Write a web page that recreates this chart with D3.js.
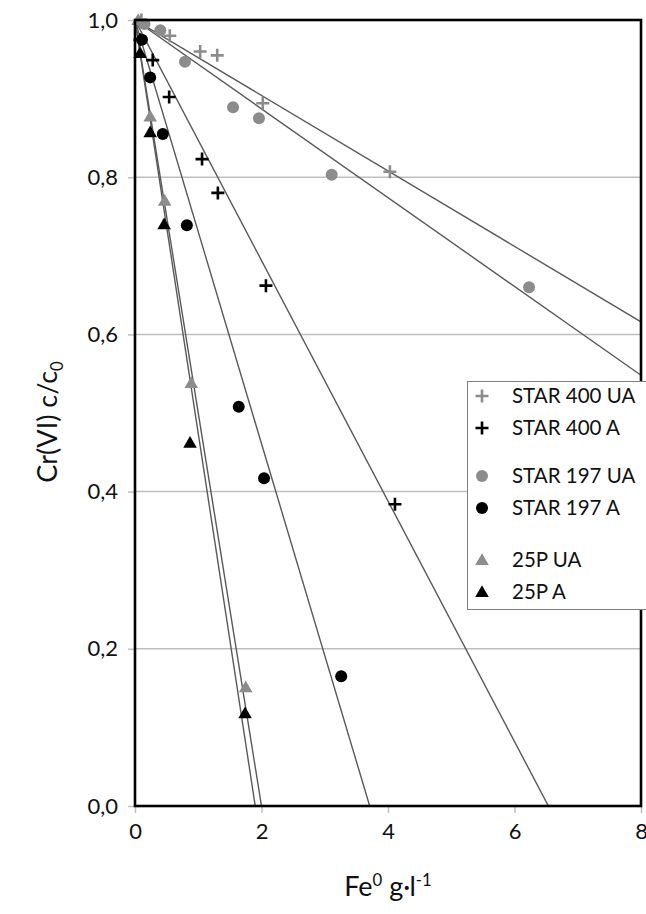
<!DOCTYPE html>
<html>
<head>
<meta charset="utf-8">
<script src="https://cdn.jsdelivr.net/npm/d3@7"></script>
<style>
  html, body { margin: 0; padding: 0; background: #fff; }
  svg { display: block; font-family: Lato, "Open Sans", sans-serif; }
</style>
</head>
<body>
<svg id="chart" width="646" height="914"></svg>
<script>
// Cr(VI) removal vs. Fe0 dose for three iron powders, untreated (UA) and activated (A)
const seriesNames = ["STAR 400 UA", "STAR 400 A", "STAR 197 UA", "STAR 197 A", "25P UA", "25P A"];

const star400uaX = [0.10, 0.55, 1.03, 1.30, 2.02, 4.03];
const star400uaY = [1.000, 0.980, 0.960, 0.955, 0.894, 0.807];

const star400aX = [0.08, 0.28, 0.54, 1.06, 1.31, 2.07, 4.11];
const star400aY = [0.975, 0.949, 0.902, 0.823, 0.780, 0.662, 0.384];

const star197uaX = [0.15, 0.40, 0.79, 1.55, 1.96, 3.11, 6.23];
const star197uaY = [0.995, 0.987, 0.947, 0.889, 0.875, 0.803, 0.660];

const star197aX = [0.11, 0.24, 0.44, 0.82, 1.64, 2.04, 3.26];
const star197aY = [0.975, 0.927, 0.855, 0.739, 0.508, 0.417, 0.165];

const p25uaX = [0.05, 0.24, 0.47, 0.89, 1.75];
const p25uaY = [1.000, 0.877, 0.770, 0.538, 0.151];

const p25aX = [0.08, 0.24, 0.46, 0.87, 1.74];
const p25aY = [0.958, 0.857, 0.740, 0.462, 0.118];

// linear trend lines c/c0 = 1 + k·dose
const trendSlopes = [-0.048, -0.153, -0.0565, -0.2695, -0.500, -0.526];

const xTicks = [0, 2, 4, 6, 8];
const yTicks = [0, 0.2, 0.4, 0.6, 0.8, 1.0];
const yTickLabels = ["0,0", "0,2", "0,4", "0,6", "0,8", "1,0"];

const xs = [star400uaX, star400aX, star197uaX, star197aX, p25uaX, p25aX];
const ys = [star400uaY, star400aY, star197uaY, star197aY, p25uaY, p25aY];
const shapes = ["plus", "plus", "circle", "circle", "triangle", "triangle"];
const colors = ["#8c8c8c", "#000000", "#8c8c8c", "#000000", "#8c8c8c", "#000000"];

const series = seriesNames.map((name, i) => ({
  name, shape: shapes[i], color: colors[i], slope: trendSlopes[i],
  points: xs[i].map((x, j) => ({ x, y: ys[i][j] }))
}));

const svg = d3.select("#chart");
const plotL = 135, plotR = 641, plotT = 20, plotB = 806;
const tickFont = 22, legendFont = 20.5, titleFont = 27;

const x = d3.scaleLinear().domain([0, 8]).range([plotL, plotR]);
const y = d3.scaleLinear().domain([0, 1]).range([plotB, plotT]);

// horizontal grid
svg.append("g").selectAll("line")
  .data(yTicks.filter(t => t > 0 && t < 1))
  .join("line")
  .attr("x1", plotL).attr("x2", plotR)
  .attr("y1", d => y(d)).attr("y2", d => y(d))
  .attr("stroke", "#bfbfbf").attr("stroke-width", 1.5);

// axes with tick labels
const yAxis = d3.axisLeft(y).tickValues(yTicks)
  .tickFormat((d, i) => yTickLabels[i]).tickSize(7).tickPadding(10);
const gy = svg.append("g").attr("transform", `translate(${plotL},0)`).call(yAxis);
gy.select(".domain").remove();
gy.selectAll(".tick line").attr("stroke", "#bfbfbf").attr("stroke-width", 1.5);
gy.selectAll(".tick text").attr("font-size", tickFont).attr("fill", "#111")
  .attr("font-family", "Lato, sans-serif");

const xAxis = d3.axisBottom(x).tickValues(xTicks).tickFormat(d3.format("d"))
  .tickSize(7).tickPadding(10);
const gx = svg.append("g").attr("transform", `translate(0,${plotB})`).call(xAxis);
gx.select(".domain").remove();
gx.selectAll(".tick line").attr("stroke", "#bfbfbf").attr("stroke-width", 1.5);
gx.selectAll(".tick text").attr("font-size", tickFont).attr("fill", "#111")
  .attr("font-family", "Lato, sans-serif");

// trend lines, clipped to the plot area
svg.append("clipPath").attr("id", "plotClip")
  .append("rect").attr("x", plotL).attr("y", plotT)
  .attr("width", plotR - plotL).attr("height", plotB - plotT);

const trend = svg.append("g").attr("clip-path", "url(#plotClip)");
series.forEach(s => {
  const xEnd = Math.min(8, -1 / s.slope);
  trend.append("line")
    .attr("x1", x(0)).attr("y1", y(1))
    .attr("x2", x(xEnd)).attr("y2", y(1 + s.slope * xEnd))
    .attr("stroke", "#595959").attr("stroke-width", 1.4);
});

// marker drawing
function drawMarker(g, shape, color, cx, cy) {
  if (shape === "plus") {
    g.append("path")
      .attr("d", `M${cx - 6.5},${cy}H${cx + 6.5}M${cx},${cy - 6.5}V${cy + 6.5}`)
      .attr("stroke", color).attr("stroke-width", 2.6).attr("fill", "none");
  } else if (shape === "circle") {
    g.append("circle").attr("cx", cx).attr("cy", cy).attr("r", 6)
      .attr("fill", color);
  } else {
    g.append("path")
      .attr("d", d3.symbol(d3.symbolTriangle, 80)())
      .attr("transform", `translate(${cx},${cy + 1})`)
      .attr("fill", color);
  }
}

const marks = svg.append("g");
series.forEach(s => {
  s.points.forEach(p => drawMarker(marks, s.shape, s.color, x(p.x), y(p.y)));
});

// plot frame
svg.append("rect").attr("x", plotL).attr("y", plotT)
  .attr("width", plotR - plotL).attr("height", plotB - plotT)
  .attr("fill", "none").attr("stroke", "#000").attr("stroke-width", 2.6);

// legend
const legend = svg.append("g");
legend.append("rect").attr("x", 467.5).attr("y", 381.5)
  .attr("width", 200).attr("height", 228)
  .attr("fill", "#fff").attr("stroke", "#7f7f7f").attr("stroke-width", 1);
const rowY = [396, 428, 476, 508, 560, 592];
series.forEach((s, i) => {
  drawMarker(legend, s.shape, s.color, 482, rowY[i]);
  legend.append("text").attr("x", 512).attr("y", rowY[i])
    .attr("dy", "0.36em").attr("font-size", legendFont).attr("fill", "#111")
    .text(s.name);
});

// axis titles
svg.append("text")
  .attr("transform", "translate(57,422) rotate(-90)")
  .attr("text-anchor", "middle").attr("font-size", titleFont).attr("fill", "#111")
  .call(t => {
    t.append("tspan").text("Cr(VI) c/c");
    t.append("tspan").attr("font-size", titleFont * 0.62).attr("dy", 6).text("0");
  });

svg.append("text")
  .attr("x", 388).attr("y", 896)
  .attr("text-anchor", "middle").attr("font-size", titleFont).attr("fill", "#111")
  .call(t => {
    t.append("tspan").text("Fe");
    t.append("tspan").attr("font-size", titleFont * 0.62).attr("dy", -10).text("0");
    t.append("tspan").attr("dy", 10).text(" g·l");
    t.append("tspan").attr("font-size", titleFont * 0.62).attr("dy", -10).text("-1");
  });
</script>
</body>
</html>
